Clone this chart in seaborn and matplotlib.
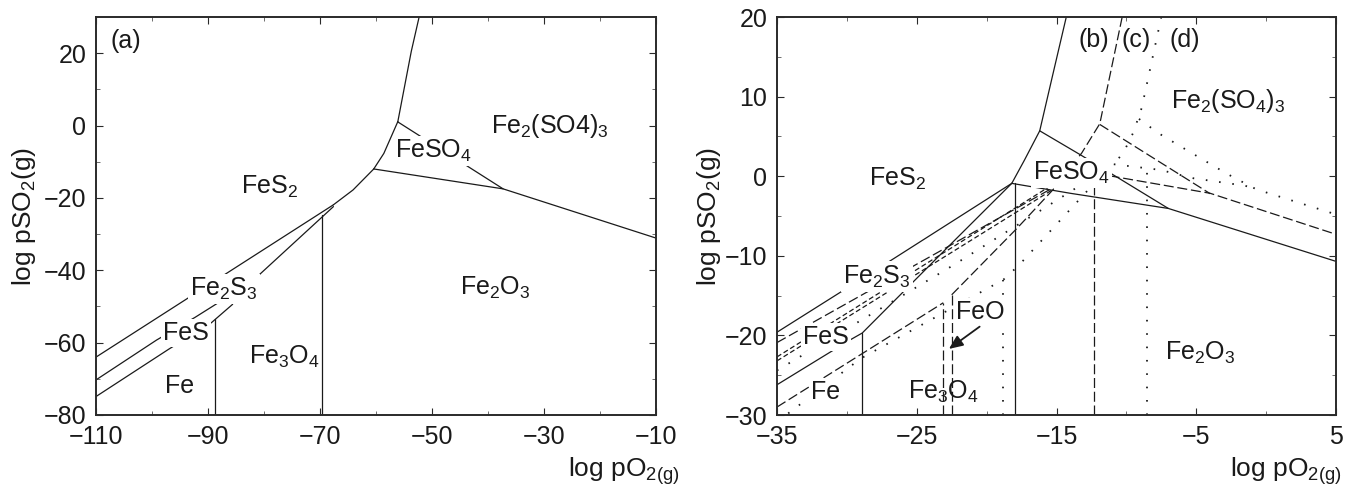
import matplotlib
matplotlib.use("Agg")
import matplotlib.pyplot as plt
import seaborn as sns
import numpy as np

# ---------------- panel (a) boundaries ----------------
a_top_x = [-56.1, -55.0, -53.7, -52.3]
a_top_y = [1.1, 10.0, 20.5, 30.0]
a_fes2_feso4_x = [-60.4, -58.6, -56.1]
a_fes2_feso4_y = [-12.0, -7.7, 1.1]
a_feso4_sulf_x = [-56.1, -37.3]
a_feso4_sulf_y = [1.0, -17.5]
a_fe2o3_x = [-60.4, -37.3, -10.0]
a_fe2o3_y = [-12.0, -17.5, -31.1]
a_diag_x = [-67.6, -64.1, -60.4]
a_diag_y = [-21.9, -17.8, -12.0]
a_l1_x = [-110.0, -67.6]
a_l1_y = [-64.0, -21.9]
a_l2_x = [-110.0, -99.2, -92.3, -88.5, -81.1, -67.6]
a_l2_y = [-70.3, -59.3, -53.0, -49.3, -41.6, -22.4]
a_l4_x = [-110.0, -97.0, -89.4, -85.6]
a_l4_y = [-74.9, -61.8, -54.5, -49.4]
a_v1_x = [-88.7, -88.7]
a_v1_y = [-80.0, -53.4]
a_v2_x = [-69.7, -69.7]
a_v2_y = [-80.0, -24.8]

# ---------------- panel (b)(c)(d) boundaries ----------------
# (b) solid
b_s1_x = [-35.0, -26.6, -18.2]
b_s1_y = [-19.6, -10.3, -0.9]
b_s3_x = [-35.0, -29.8, -28.9, -22.6, -18.2]
b_s3_y = [-26.2, -20.6, -19.7, -8.6, -0.9]
b_vfe_x = [-28.9, -28.9]
b_vfe_y = [-30.0, -19.7]
b_vmag_x = [-17.95, -17.95]
b_vmag_y = [-30.0, -0.9]
b_top_x = [-18.2, -17.3, -16.2, -15.3, -14.3]
b_top_y = [-0.9, 2.0, 5.7, 12.5, 20.0]
b_sulf_x = [-16.2, -13.3, -7.0]
b_sulf_y = [5.7, 2.7, -4.05]
b_hem_x = [-18.2, -14.0, -7.0, 5.0]
b_hem_y = [-0.9, -2.15, -4.05, -10.7]

# (c) dashed
c_top_x = [-10.3, -11.9, -13.2, -15.2]
c_top_y = [20.0, 6.6, 2.9, -1.4]
c_sulf_x = [-11.9, -4.0]
c_sulf_y = [6.5, -2.2]
c_hem_x = [-11.2, -4.0, 5.0]
c_hem_y = [0.05, -2.15, -7.3]
c_vmag_x = [-12.35, -12.35]
c_vmag_y = [-30.0, -1.3]
c_fes2_x = [-35.0, -15.2]
c_fes2_y = [-20.9, -1.4]
c_pair1_x = [-35.0, -15.5]
c_pair1_y = [-22.7, -1.3]
c_pair2_x = [-35.0, -15.2]
c_pair2_y = [-23.2, -1.6]
c_fe_x = [-35.0, -23.1]
c_fe_y = [-29.0, -15.9]
c_vfe_x = [-23.1, -23.1]
c_vfe_y = [-30.0, -15.9]
c_vfeo_x = [-22.5, -22.5]
c_vfeo_y = [-30.0, -14.9]
c_feo_x = [-22.5, -17.8, -15.2]
c_feo_y = [-14.9, -6.5, -1.6]

# (d) dotted
d_top_x = [-7.5, -8.9, -9.5, -10.2, -10.9]
d_top_y = [20.0, 8.6, 5.5, 3.0, 1.5]
d_sulf_x = [-9.1, -7.7, -5.7, -2.8, -0.7, 5.0]
d_sulf_y = [7.2, 5.4, 3.3, 0.3, -1.65, -4.8]
d_hem_x = [-10.9, -7.6, -5.2, -1.5, -0.7]
d_hem_y = [1.5, 0.8, -0.26, -1.2, -1.65]
d_vmag_x = [-8.5, -8.5]
d_vmag_y = [-30.0, 0.9]
d_fes2_x = [-35.0, -22.4, -15.5, -11.2]
d_fes2_y = [-24.4, -11.2, -3.6, 1.2]
d_fe_x = [-34.2, -29.0, -18.8]
d_fe_y = [-29.8, -22.9, -13.0]
d_feo_x = [-18.8, -17.7, -14.4, -11.2]
d_feo_y = [-13.0, -11.2, -4.9, 1.2]
d_vfeo_x = [-18.8, -18.8]
d_vfeo_y = [-30.0, -13.0]

INK = "#1a1a1a"
SOLID = "-"
LDASH = (0, (8, 3))
SDASH = (0, (4, 2.2))
DOT = (0, (0.9, 6.5))

sns.set_theme(style="ticks")
plt.rcParams["font.family"] = ["Liberation Sans", "DejaVu Sans"]
plt.rcParams["mathtext.default"] = "regular"

fig = plt.figure(figsize=(13.57, 4.97), dpi=100)
axA = fig.add_axes([96 / 1357, 1 - 415 / 497, 560 / 1357, 398 / 497])
axB = fig.add_axes([777 / 1357, 1 - 415 / 497, 559 / 1357, 398 / 497])


def draw(ax, xs, ys, ls=SOLID, lw=0.9):
    sns.lineplot(x=xs, y=ys, sort=False, estimator=None, ax=ax, color=INK,
                 linewidth=lw, linestyle=ls, zorder=2)


for xs, ys in [(a_top_x, a_top_y), (a_fes2_feso4_x, a_fes2_feso4_y),
               (a_feso4_sulf_x, a_feso4_sulf_y), (a_fe2o3_x, a_fe2o3_y),
               (a_diag_x, a_diag_y), (a_l1_x, a_l1_y), (a_l2_x, a_l2_y),
               (a_l4_x, a_l4_y), (a_v1_x, a_v1_y), (a_v2_x, a_v2_y)]:
    draw(axA, xs, ys)

for xs, ys in [(b_s1_x, b_s1_y), (b_s3_x, b_s3_y), (b_vfe_x, b_vfe_y),
               (b_vmag_x, b_vmag_y), (b_top_x, b_top_y), (b_sulf_x, b_sulf_y),
               (b_hem_x, b_hem_y)]:
    draw(axB, xs, ys)
for xs, ys in [(c_top_x, c_top_y), (c_sulf_x, c_sulf_y), (c_hem_x, c_hem_y),
               (c_vmag_x, c_vmag_y), (c_fes2_x, c_fes2_y), (c_fe_x, c_fe_y),
               (c_vfe_x, c_vfe_y), (c_vfeo_x, c_vfeo_y), (c_feo_x, c_feo_y)]:
    draw(axB, xs, ys, LDASH)
for xs, ys in [(c_pair1_x, c_pair1_y), (c_pair2_x, c_pair2_y)]:
    draw(axB, xs, ys, SDASH)
for xs, ys in [(d_top_x, d_top_y), (d_sulf_x, d_sulf_y), (d_hem_x, d_hem_y),
               (d_vmag_x, d_vmag_y), (d_fes2_x, d_fes2_y), (d_fe_x, d_fe_y),
               (d_feo_x, d_feo_y), (d_vfeo_x, d_vfeo_y)]:
    draw(axB, xs, ys, DOT, lw=1.3)

FS = 18
box = dict(boxstyle="square,pad=0.08", fc="white", ec="none")


def lab(ax, x, y, s, masked=True, fs=FS):
    ax.text(x, y, s, ha="center", va="center", fontsize=fs, color=INK,
            zorder=5, bbox=box if masked else None)


lab(axA, -104.7, 23.3, "(a)", False)
lab(axA, -29.0, -0.2, "Fe$_2$(SO4)$_3$", False)
lab(axA, -49.7, -7.1, "FeSO$_4$")
lab(axA, -79.0, -16.9, "FeS$_2$", False)
lab(axA, -87.1, -45.2, "Fe$_2$S$_3$")
lab(axA, -94.0, -57.4, "FeS")
lab(axA, -95.1, -72.0, "Fe")
lab(axA, -76.4, -64.0, "Fe$_3$O$_4$", False)
lab(axA, -38.7, -45.0, "Fe$_2$O$_3$", False)

lab(axB, -12.3, 17.1, "(b)", False)
lab(axB, -9.3, 17.1, "(c)", False)
lab(axB, -5.8, 17.1, "(d)", False)
lab(axB, -2.7, 9.5, "Fe$_2$(SO$_4$)$_3$", False)
lab(axB, -26.4, -0.35, "FeS$_2$", False)
lab(axB, -13.9, 0.4, "FeSO$_4$")
lab(axB, -27.85, -12.6, "Fe$_2$S$_3$")
lab(axB, -31.5, -20.2, "FeS")
lab(axB, -31.5, -27.1, "Fe")
lab(axB, -23.1, -27.1, "Fe$_3$O$_4$", False)
lab(axB, -20.45, -17.1, "FeO")
lab(axB, -4.75, -22.2, "Fe$_2$O$_3$", False)
axB.annotate("", xy=(-22.7, -21.7), xytext=(-20.5, -18.9),
             arrowprops=dict(arrowstyle="-|>,head_length=0.7,head_width=0.3",
                             color=INK, lw=1.3, shrinkA=0, shrinkB=0), zorder=6)

# axes styling
axA.set_xlim(-110, -10)
axA.set_ylim(-80, 30)
axA.set_xticks([-110, -90, -70, -50, -30, -10])
axA.set_xticks(np.arange(-100, -10, 20), minor=True)
axA.set_yticks([-80, -60, -40, -20, 0, 20])
axA.set_yticks(np.arange(-70, 30, 20), minor=True)

axB.set_xlim(-35, 5)
axB.set_ylim(-30, 20)
axB.set_xticks([-35, -25, -15, -5, 5])
axB.set_xticks([-30, -20, -10, 0], minor=True)
axB.set_yticks([-30, -20, -10, 0, 10, 20])
axB.set_yticks([-25, -15, -5, 5, 15], minor=True)

for ax in (axA, axB):
    for sp in ax.spines.values():
        sp.set_visible(True)
        sp.set_linewidth(1.4)
        sp.set_color("#2a2a2a")
    ax.tick_params(which="major", direction="in", top=True, right=True,
                   length=5, width=0.8, labelsize=FS, pad=7, colors="#2a2a2a",
                   labelcolor=INK)
    ax.tick_params(which="minor", direction="in", top=True, right=True,
                   length=3, width=0.6, colors="#555555")
    ax.set_ylabel("log pSO$_2$(g)", fontsize=19, color=INK)
    ax.set_xlabel("log pO$_{2(g)}$", fontsize=19, color=INK)
    ax.xaxis.label.set_ha("right")
    ax.xaxis.label.set_va("center")

axA.yaxis.set_label_coords(-0.104, 0.5)
axB.yaxis.set_label_coords(-0.096, 0.5)
axA.xaxis.set_label_coords(1.043, -0.14)
axB.xaxis.set_label_coords(1.011, -0.14)

fig.savefig("out.png", dpi=100, facecolor="white")
